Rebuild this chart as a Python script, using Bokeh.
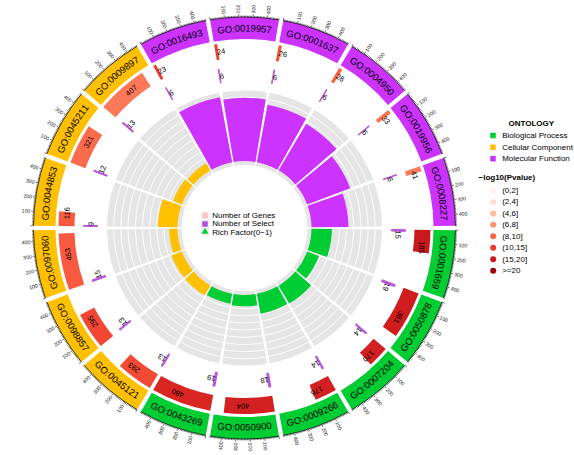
import math
from bokeh.plotting import figure
from bokeh.models import Range1d, ColumnDataSource
from bokeh.embed import file_html
from bokeh.resources import INLINE
from bokeh.core.properties import value

# ---------------- data (clockwise, starting at GO:0001659) ----------------
go_ids = ["GO:0001659", "GO:0050878", "GO:0007204", "GO:0009266", "GO:0050900", "GO:0043269",
          "GO:0045121", "GO:0098857", "GO:0097060", "GO:0044853", "GO:0045211", "GO:0009897",
          "GO:0016493", "GO:0019957", "GO:0001637", "GO:0004950", "GO:0019956", "GO:0008227"]
ontology = ["Biological Process", "Biological Process", "Biological Process",
            "Biological Process", "Biological Process", "Biological Process",
            "Cellular Component", "Cellular Component", "Cellular Component",
            "Cellular Component", "Cellular Component", "Cellular Component",
            "Molecular Function", "Molecular Function", "Molecular Function",
            "Molecular Function", "Molecular Function", "Molecular Function"]
num_genes = [185, 381, 170, 176, 404, 480, 293, 295, 453, 116, 321, 407, 23, 24, 26, 28, 33, 41]
num_select = [15, 19, 14, 14, 18, 19, 13, 13, 15, 9, 12, 13, 6, 6, 6, 6, 6, 6]
neg_log10_p = [17.5, 17.0, 16.4, 16.4, 16.4, 15.5, 11.4, 11.6, 10.2, 10.2, 8.9, 8.3,
               12.5, 12.0, 10.8, 9.9, 8.6, 8.2]

ontology_names = ["Biological Process", "Cellular Component", "Molecular Function"]
ontology_colors = ["#00CC33", "#FFC000", "#CC33FF"]
pvalue_labels = ["(0,2]", "(2,4]", "(4,6]", "(6,8]", "(8,10]", "(10,15]", "(15,20]", ">=20"]
pvalue_colors = ["#FFF5F0", "#FEE0D2", "#FCBBA1", "#FC9272", "#FB6A4A", "#EF3B2C", "#CB181D", "#99000D"]
pvalue_anchor = [1, 3, 5, 7, 9, 12.5, 17.5, 22]
axis_ticks = [0, 100, 200, 300, 400]
axis_labels = ["100", "200", "300", "400"]
select_color = "#BB55DD"

# ---------------- geometry ----------------
W, H = 574, 455
CX, CY = 244.0, 455 - 227.5
N = len(go_ids)
GAP = 1.2
SPAN = 360.0 / N - GAP
XMAX = 480.0
DPU = SPAN / XMAX
FIRST_CENTER = 100.0
FONT = "Liberation Sans"

ont_col = dict(zip(ontology_names, ontology_colors))


def hex2rgb(h):
    return tuple(int(h[i:i + 2], 16) for i in (1, 3, 5))


def pcolor(v):
    a = pvalue_anchor
    if v <= a[0]:
        return pvalue_colors[0]
    if v >= a[-1]:
        return pvalue_colors[-1]
    for i in range(len(a) - 1):
        if a[i] <= v <= a[i + 1]:
            t = (v - a[i]) / (a[i + 1] - a[i])
            c1, c2 = hex2rgb(pvalue_colors[i]), hex2rgb(pvalue_colors[i + 1])
            c = [round(c1[k] + (c2[k] - c1[k]) * t) for k in range(3)]
            return "#%02X%02X%02X" % tuple(c)


def pt(r, th):
    t = math.radians(th)
    return CX + r * math.sin(t), CY + r * math.cos(t)


def wedge_ang(tha, thb):
    return math.radians(90 - thb), math.radians(90 - tha)


centers = [(FIRST_CENTER + 360.0 / N * i) % 360 for i in range(N)]
starts = [c - SPAN / 2 for c in centers]

p = figure(width=W, height=H, x_range=Range1d(0, W), y_range=Range1d(0, H),
           output_backend="svg", toolbar_location=None, min_border=0,
           x_axis_type=None, y_axis_type=None)
p.grid.visible = False
p.outline_line_color = None
p.background_fill_color = "white"


def add_wedges(r_in, r_out, tha, thb, colors, line_color=None, line_width=0):
    sa, ea = [], []
    for a, b in zip(tha, thb):
        s, e = wedge_ang(a, b)
        sa.append(s)
        ea.append(e)
    src = ColumnDataSource(dict(x=[CX] * len(sa), y=[CY] * len(sa), ri=r_in, ro=r_out,
                                sa=sa, ea=ea, c=colors))
    p.annular_wedge(x="x", y="y", inner_radius="ri", outer_radius="ro", start_angle="sa",
                    end_angle="ea", direction="anticlock", fill_color="c",
                    line_color=line_color if line_color else None,
                    line_width=line_width, source=src)


# ---- track 4: rich factor ----
R4_IN, R4_OUT, R4_B0, R4_B1 = 63.0, 137.5, 67.0, 133.0
ends = [s + SPAN for s in starts]
add_wedges([R4_IN] * N, [R4_OUT] * N, starts, ends, ["#E5E5E5"] * N)
ga_r, ga_s, ga_e = [], [], []
for i in range(N):
    s, e = wedge_ang(starts[i], ends[i])
    for k in range(1, 10):
        ga_r.append(66.5 + 7.14 * k)
        ga_s.append(s)
        ga_e.append(e)
p.arc(x=[CX] * len(ga_r), y=[CY] * len(ga_r), radius=ga_r, start_angle=ga_s, end_angle=ga_e,
      direction="anticlock", line_color="white", line_width=0.9)
rich = [s / g for s, g in zip(num_select, num_genes)]
rmax = max(rich)
add_wedges([R4_B0] * N, [R4_B0 + v / rmax * (R4_B1 - R4_B0) for v in rich], starts, ends,
           [ont_col[o] for o in ontology])

# ---- track 3: number of select ----
R3_IN, R3_OUT = 147.0, 161.0
add_wedges([R3_IN] * N, [R3_OUT] * N, starts, [s + v * DPU for s, v in zip(starts, num_select)],
           [select_color] * N, line_color=select_color, line_width=1)

# ---- track 2: number of genes ----
R2_IN, R2_OUT = 170.0, 186.0
add_wedges([R2_IN] * N, [R2_OUT] * N, starts, [s + v * DPU for s, v in zip(starts, num_genes)],
           [pcolor(v) for v in neg_log10_p])


def num_labels(vals, r, size):
    xs, ys, ang, txt = [], [], [], []
    for s, v in zip(starts, vals):
        th = s + v / 2.0 * DPU
        x, y = pt(r, th)
        xs.append(x)
        ys.append(y)
        ang.append(math.radians(-th))
        txt.append(str(v))
    p.text(x=xs, y=ys, text=txt, angle=ang, text_font=value(FONT), text_font_size=size,
           text_align="left", text_baseline="middle", text_color="black")


num_labels(num_genes, 178.0, "7.5px")
num_labels(num_select, 153.5, "7.5px")

# ---- outer ring ----
R1_IN, R1_OUT = 189.0, 211.0
add_wedges([R1_IN] * N, [R1_OUT] * N, starts, ends, [ont_col[o] for o in ontology])

# GO labels, bent along the arc
EM = {"G": 0.778, "O": 0.778, ":": 0.278}
GFS = 9.5
RL = 199.5
cx_, cy_, ca_, ct_ = [], [], [], []
for i in range(N):
    lab = go_ids[i]
    ws = [EM.get(ch, 0.556) * GFS for ch in lab]
    L = sum(ws)
    Ldeg = math.degrees(L / RL)
    thc = centers[i]
    flip = 100.5 < thc % 360 < 259.5
    cum = 0.0
    for ch, w in zip(lab, ws):
        d = math.degrees((cum + w / 2) / RL)
        if flip:
            th = thc + Ldeg / 2 - d
            a = math.radians(-th + 180)
        else:
            th = thc - Ldeg / 2 + d
            a = math.radians(-th)
        x, y = pt(RL, th)
        cx_.append(x)
        cy_.append(y)
        ca_.append(a)
        ct_.append(ch)
        cum += w
p.text(x=cx_, y=cy_, text=ct_, angle=ca_, text_font=value(FONT), text_font_size="%.1fpx" % GFS,
       text_align="center", text_baseline="middle", text_color="black")

# axis on the outer ring
ax_s, ax_e = [], []
for i in range(N):
    s, e = wedge_ang(starts[i], ends[i])
    ax_s.append(s)
    ax_e.append(e)
p.arc(x=[CX] * N, y=[CY] * N, radius=[R1_OUT] * N, start_angle=ax_s, end_angle=ax_e,
      direction="anticlock", line_color="black", line_width=0.7)
x0, y0, x1, y1 = [], [], [], []
for i in range(N):
    for u in range(0, int(XMAX) + 1, 10):
        th = starts[i] + u * DPU
        ln = 2.8 if u in axis_ticks else 1.4
        a, b = pt(R1_OUT, th)
        c, d = pt(R1_OUT + ln, th)
        x0.append(a); y0.append(b); x1.append(c); y1.append(d)
p.segment(x0=x0, y0=y0, x1=x1, y1=y1, line_color="black", line_width=0.55)
tx, ty, ta, tt, tal = [], [], [], [], []
for i in range(N):
    for lab in axis_labels:
        th = starts[i] + float(lab) * DPU
        x, y = pt(R1_OUT + 3.8, th)
        thm = th % 360
        if 0 <= thm < 180:
            a = math.radians(90 - th)
            al = "left"
        else:
            a = math.radians(90 - th + 180)
            al = "right"
        tx.append(x); ty.append(y); ta.append(a); tt.append(lab); tal.append(al)
src_t = ColumnDataSource(dict(x=tx, y=ty, a=ta, t=tt, al=tal))
p.text(x="x", y="y", text="t", angle="a", text_align="al", source=src_t, text_font=value(FONT),
       text_font_size="5.2px", text_baseline="middle", text_color="#222222")

# ---- centre legend ----
cl_y = [H - 215.0, H - 223.4, H - 231.8]
cl_lab = ["Number of Genes", "Number of Select", "Rich Factor(0\u22121)"]
p.rect(x=[204.5] * 3, y=cl_y, width=8, height=8, fill_color="#F2F2F2", line_color=None)
p.rect(x=[204.5] * 2, y=cl_y[:2], width=5.5, height=5.5, fill_color=["#FFC0CB", "#B04FD8"],
       line_color=None)
p.scatter(x=[204.5], y=[cl_y[2] + 0.5], marker="triangle", size=7, fill_color="#00CC33",
          line_color=None)
p.text(x=[211.7] * 3, y=cl_y, text=cl_lab, text_font=value(FONT), text_font_size="8px",
       text_align="left", text_baseline="middle", text_color="black")

# ---- right legend ----
p.text(x=[508], y=[H - 122.5], text=["ONTOLOGY"], text_font=value(FONT), text_font_size="8px",
       text_font_style="bold", text_align="left", text_baseline="middle", text_color="black")
oy = [H - 135.0, H - 146.7, H - 158.3]
p.rect(x=[492.5] * 3, y=oy, width=5.5, height=5.5, fill_color=ontology_colors, line_color=None)
p.text(x=[501.7] * 3, y=oy, text=ontology_names, text_font=value(FONT), text_font_size="8px",
       text_align="left", text_baseline="middle", text_color="black")
p.text(x=[478], y=[H - 176.7], text=["\u2212log10(Pvalue)"], text_font=value(FONT),
       text_font_size="8px", text_font_style="bold", text_align="left", text_baseline="middle",
       text_color="black")
py = [H - (190.0 + 11.45 * k) for k in range(len(pvalue_labels))]
p.scatter(x=[492.7] * len(py), y=py, size=6, fill_color=pvalue_colors, line_color=None)
p.text(x=[501.7] * len(py), y=py, text=pvalue_labels, text_font=value(FONT), text_font_size="8px",
       text_align="left", text_baseline="middle", text_color="black")

open("out.html", "w").write(file_html(p, INLINE))
